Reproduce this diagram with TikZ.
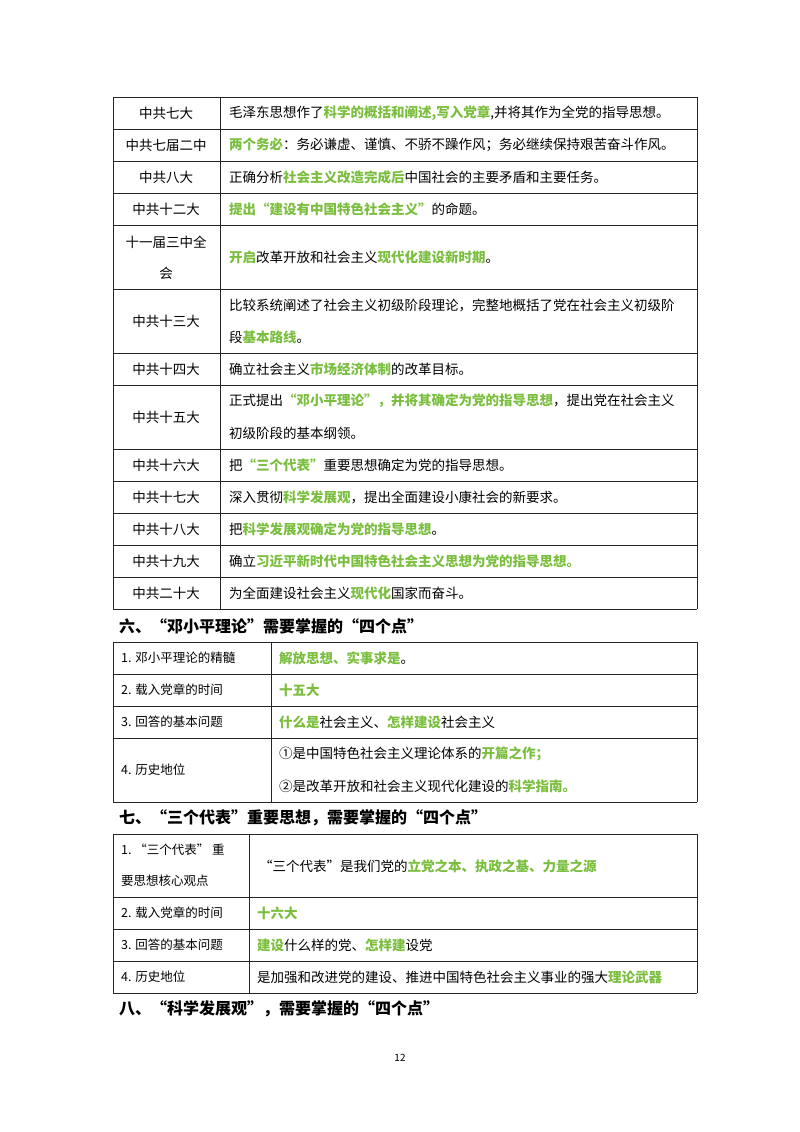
\documentclass[tikz,border=0pt]{standalone}
\usepackage{fontspec}
\setmainfont{Noto Sans CJK SC}
\definecolor{gr}{RGB}{122,190,62}
\newcommand{\gt}[1]{{\color{gr}\bfseries #1}}
\begin{document}
\begin{tikzpicture}[x=1pt,y=-1pt,
  t/.style={font=\fontsize{13.5}{14}\selectfont,inner sep=0pt,anchor=west},
  c/.style={font=\fontsize{13.5}{14}\selectfont,inner sep=0pt,anchor=center},
  s/.style={font=\fontsize{12.5}{13}\selectfont,inner sep=0pt,anchor=west},
  h/.style={font=\fontsize{16}{17}\selectfont\bfseries,inner sep=0pt,anchor=west},
  ln/.style={line width=0.8pt,black!85}]
\useasboundingbox (0,0) rectangle (800,1132);
% table 1
\foreach \y in {97,129,161,193,225,289,353,385,449,481,513,545,577,609} \draw[ln] (113,\y) -- (697,\y);
\draw[ln] (113,97) -- (113,609); \draw[ln] (220,97) -- (220,609); \draw[ln] (697,97) -- (697,609);
\node[c] (l1) at (166,113) {中共七大};
\node[t] (r1) at (229,113) {毛泽东思想作了\gt{科学的概括和阐述,写入党章},并将其作为全党的指导思想。};
\node[c] (l2) at (166,145) {中共七届二中};
\node[t] (r2) at (229,145) {\gt{两个务必}：务必谦虚、谨慎、不骄不躁作风；务必继续保持艰苦奋斗作风。};
\node[c] (l3) at (166,177) {中共八大};
\node[t] (r3) at (229,177) {正确分析\gt{社会主义改造完成后}中国社会的主要矛盾和主要任务。};
\node[c] (l4) at (166,209) {中共十二大};
\node[t] (r4) at (229,209) {\gt{提出“建设有中国特色社会主义”}的命题。};
\node[c] (l5a) at (166,242) {十一届三中全};
\node[c] (l5b) at (166,273) {会};
\node[t] (r5) at (229,257) {\gt{开启}改革开放和社会主义\gt{现代化建设新时期}。};
\node[c] (l6) at (166,321) {中共十三大};
\node[t] (r6a) at (229,305) {比较系统阐述了社会主义初级阶段理论，完整地概括了党在社会主义初级阶};
\node[t] (r6b) at (229,337) {段\gt{基本路线}。};
\node[c] (l7) at (166,369) {中共十四大};
\node[t] (r7) at (229,369) {确立社会主义\gt{市场经济体制}的改革目标。};
\node[c] (l8) at (166,417) {中共十五大};
\node[t] (r8a) at (229,401) {正式提出\gt{“邓小平理论”，并将其确定为党的指导思想}，提出党在社会主义};
\node[t] (r8b) at (229,433) {初级阶段的基本纲领。};
\node[c] (l9) at (166,465) {中共十六大};
\node[t] (r9) at (229,465) {把\gt{“三个代表”}重要思想确定为党的指导思想。};
\node[c] (l10) at (166,497) {中共十七大};
\node[t] (r10) at (229,497) {深入贯彻\gt{科学发展观}，提出全面建设小康社会的新要求。};
\node[c] (l11) at (166,529) {中共十八大};
\node[t] (r11) at (229,529) {把\gt{科学发展观确定为党的指导思想}。};
\node[c] (l12) at (166,561) {中共十九大};
\node[t] (r12) at (229,561) {确立\gt{习近平新时代中国特色社会主义思想为党的指导思想。}};
\node[c] (l13) at (166,593) {中共二十大};
\node[t] (r13) at (229,593) {为全面建设社会主义\gt{现代化}国家而奋斗。};
% heading 6
\node[h] (h6) at (119,626) {六、“邓小平理论”需要掌握的“四个点”};
\foreach \y in {642,674,706,738,802} \draw[ln] (113,\y) -- (697,\y);
\draw[ln] (113,642) -- (113,802); \draw[ln] (271,642) -- (271,802); \draw[ln] (697,642) -- (697,802);
\node[s] (a1) at (121,658) {1. 邓小平理论的精髓};
\node[t] (b1) at (279,658) {\gt{解放思想、实事求是}。};
\node[s] (a2) at (121,690) {2. 载入党章的时间};
\node[t] (b2) at (279,690) {\gt{十五大}};
\node[s] (a3) at (121,722) {3. 回答的基本问题};
\node[t] (b3) at (279,722) {\gt{什么是}社会主义、\gt{怎样建设}社会主义};
\node[s] (a4) at (121,770) {4. 历史地位};
\node[t] (b4a) at (279,754) {①是中国特色社会主义理论体系的\gt{开篇之作；}};
\node[t] (b4b) at (279,786) {②是改革开放和社会主义现代化建设的\gt{科学指南。}};
% heading 7
\node[h] (h7) at (119,818) {七、“三个代表”重要思想，需要掌握的“四个点”};
\foreach \y in {834,897,929,961,993} \draw[ln] (113,\y) -- (697,\y);
\draw[ln] (113,834) -- (113,993); \draw[ln] (249,834) -- (249,993); \draw[ln] (697,834) -- (697,993);
\node[s] (c1a) at (121,850) {1.\ “三个代表”\ 重};
\node[s] (c1b) at (121,881) {要思想核心观点};
\node[t] (d1) at (259,866) {“三个代表”是我们党的\gt{立党之本、执政之基、力量之源}};
\node[s] (c2) at (121,913) {2. 载入党章的时间};
\node[t] (d2) at (257,913) {\gt{十六大}};
\node[s] (c3) at (121,945) {3. 回答的基本问题};
\node[t] (d3) at (257,945) {\gt{建设}什么样的党、\gt{怎样建}设党};
\node[s] (c4) at (121,977) {4. 历史地位};
\node[t] (d4) at (257,977) {是加强和改进党的建设、推进中国特色社会主义事业的强大\gt{理论武器}};
\node[h] (h8) at (119,1009) {八、“科学发展观”，需要掌握的“四个点”};
\node[font=\fontsize{10}{11}\selectfont,inner sep=0pt] (pg) at (400,1058) {12};
\end{tikzpicture}
\end{document}
